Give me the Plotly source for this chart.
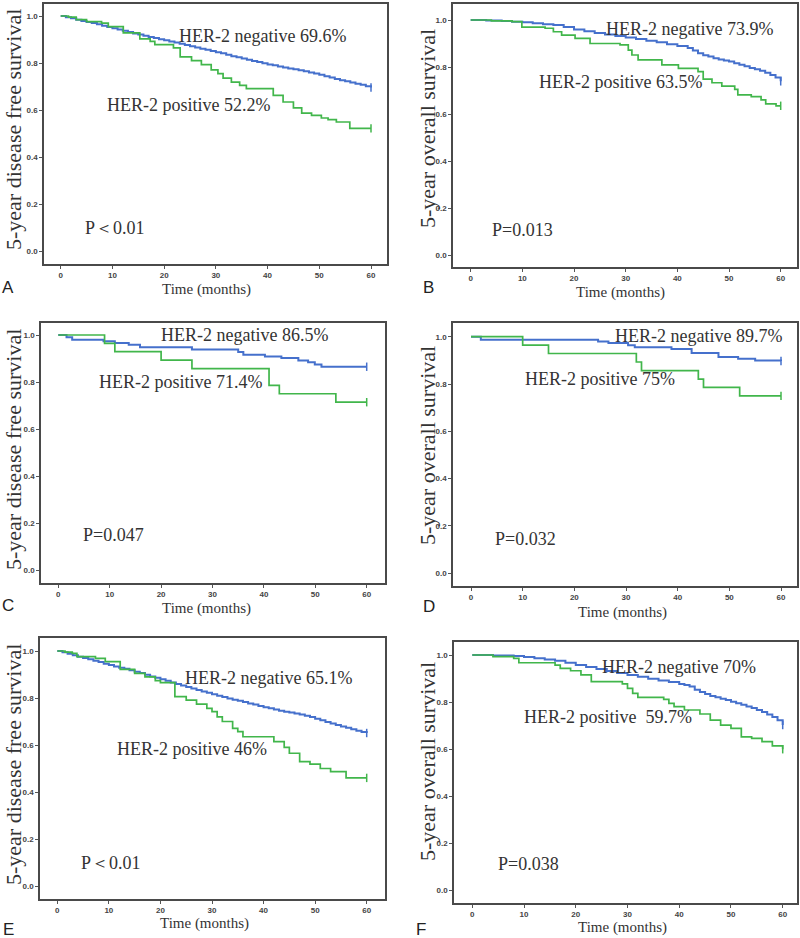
import plotly.graph_objects as go

# ---------------- data ----------------
a_neg_t = [0, 1, 2, 3, 4, 5, 6, 7, 8, 9, 10, 11, 12, 13, 14, 15, 16, 17, 18, 19, 20, 21, 22, 23, 24, 25, 26, 27, 28, 29, 30,
           31, 32, 33, 34, 35, 36, 37, 38, 39, 40, 41, 42, 43, 44, 45, 46, 47, 48, 49, 50, 51, 52, 53, 54, 55, 56, 57, 58, 59, 60]
a_neg_s = [1.0, 0.995, 0.99, 0.984, 0.979, 0.975, 0.97, 0.965, 0.958, 0.953, 0.948, 0.943, 0.937, 0.932, 0.926, 0.921, 0.916,
           0.911, 0.906, 0.901, 0.897, 0.892, 0.887, 0.882, 0.877, 0.871, 0.866, 0.861, 0.856, 0.851, 0.846, 0.841, 0.835, 0.829,
           0.824, 0.819, 0.814, 0.809, 0.804, 0.799, 0.794, 0.79, 0.785, 0.781, 0.777, 0.773, 0.769, 0.765, 0.76, 0.755, 0.75,
           0.744, 0.738, 0.732, 0.727, 0.722, 0.717, 0.712, 0.707, 0.701, 0.696]
a_pos_t = [0, 1.5, 3, 5, 7.9, 9.2, 12.1, 15.3, 17.3, 18.2, 21.8, 23.1, 25.3, 27.2, 29.1, 30.4, 31.4, 33, 34.6, 35.9, 41.1, 43,
           45, 46.6, 48.5, 50.4, 51.7, 53.3, 55.9, 60]
a_pos_s = [1.0, 0.995, 0.985, 0.976, 0.97, 0.955, 0.928, 0.903, 0.892, 0.878, 0.864, 0.826, 0.81, 0.793, 0.771, 0.755, 0.736,
           0.719, 0.705, 0.691, 0.662, 0.634, 0.609, 0.587, 0.577, 0.566, 0.559, 0.549, 0.522, 0.522]

b_neg_t = [0, 3, 6, 8, 10, 12, 14, 16, 18, 20, 22, 24, 26, 28, 30, 32, 34, 36, 38, 40, 42, 43, 44, 45, 46, 47, 48, 49, 50, 51,
           52, 53, 54, 55, 56, 57, 58, 59, 60]
b_neg_s = [1.0, 0.998, 0.996, 0.993, 0.99, 0.986, 0.982, 0.979, 0.97, 0.96, 0.952, 0.945, 0.938, 0.932, 0.926, 0.919, 0.912,
           0.905, 0.897, 0.889, 0.881, 0.87, 0.858, 0.85, 0.845, 0.837, 0.832, 0.828, 0.823, 0.816, 0.81, 0.803, 0.796, 0.79,
           0.784, 0.776, 0.766, 0.755, 0.739]
b_pos_t = [0, 4, 8, 9.9, 14.4, 16, 17.6, 20.2, 23.1, 28.9, 30.5, 31.2, 32.4, 37, 40.2, 44, 45, 46.7, 48.6, 51.1, 51.7, 54.3,
           56.2, 57.1, 59.1, 60]
b_pos_s = [1.0, 0.996, 0.993, 0.97, 0.965, 0.95, 0.936, 0.922, 0.9, 0.894, 0.872, 0.851, 0.83, 0.809, 0.794, 0.78, 0.748,
           0.733, 0.719, 0.705, 0.681, 0.674, 0.66, 0.643, 0.635, 0.635]

c_neg_t = [0, 1.6, 2.7, 8.8, 11, 13.7, 15.9, 26, 35, 36, 40.2, 43.4, 46.7, 48.6, 49.9, 51.2, 60]
c_neg_s = [1.0, 0.99, 0.98, 0.973, 0.966, 0.959, 0.948, 0.938, 0.928, 0.916, 0.909, 0.902, 0.892, 0.884, 0.874, 0.865, 0.865]
c_pos_t = [0, 9, 11, 20, 26, 41, 43, 54, 60]
c_pos_s = [1.0, 0.964, 0.929, 0.893, 0.857, 0.786, 0.75, 0.714, 0.714]

d_neg_t = [0, 1.9, 24.6, 26.6, 30.4, 31.7, 38.8, 42.7, 47.9, 51.7, 55, 60]
d_neg_s = [1.0, 0.987, 0.98, 0.973, 0.964, 0.955, 0.948, 0.931, 0.914, 0.907, 0.899, 0.897]
d_pos_t = [0, 10, 15, 32, 33, 44, 45, 52, 60]
d_pos_s = [1.0, 0.964, 0.929, 0.893, 0.857, 0.821, 0.786, 0.75, 0.75]

e_neg_t = [0, 1, 2, 3, 4, 5, 6, 7, 8, 9, 10, 11, 12, 13, 14, 15, 16, 17, 18, 19, 20, 21, 22, 23, 24, 25, 26, 27, 28, 29, 30,
           31, 32, 33, 34, 35, 36, 37, 38, 39, 40, 41, 42, 43, 44, 45, 46, 47, 48, 49, 50, 51, 52, 53, 54, 55, 56, 57, 58, 59, 60]
e_neg_s = [1.0, 0.995, 0.988, 0.982, 0.976, 0.97, 0.965, 0.959, 0.953, 0.946, 0.94, 0.934, 0.929, 0.924, 0.918, 0.912, 0.906,
           0.899, 0.892, 0.886, 0.88, 0.873, 0.866, 0.86, 0.853, 0.847, 0.84, 0.834, 0.828, 0.822, 0.816, 0.81, 0.804, 0.798,
           0.793, 0.788, 0.783, 0.777, 0.772, 0.766, 0.761, 0.756, 0.751, 0.746, 0.742, 0.738, 0.734, 0.73, 0.725, 0.719, 0.712,
           0.705, 0.698, 0.691, 0.685, 0.679, 0.673, 0.667, 0.661, 0.655, 0.651]
e_pos_t = [0, 1.5, 2.9, 3.8, 7.4, 9.3, 12.2, 15, 17, 19, 20, 22.8, 25, 27, 29, 30, 31, 32, 34, 35, 36, 42, 44, 45, 47, 49, 51,
           53, 56, 60]
e_pos_s = [1.0, 0.995, 0.99, 0.976, 0.969, 0.955, 0.922, 0.905, 0.89, 0.874, 0.865, 0.806, 0.791, 0.774, 0.756, 0.742, 0.72,
           0.7, 0.671, 0.657, 0.635, 0.614, 0.59, 0.565, 0.529, 0.519, 0.5, 0.487, 0.46, 0.46]

f_neg_t = [0, 4, 8, 10, 12, 14, 16, 18, 20, 22, 24, 26, 28, 30, 32, 34, 36, 38, 40, 41, 42, 43, 44, 45, 46, 47, 48, 49, 50, 51,
           52, 53, 54, 55, 56, 57, 58, 59, 60]
f_neg_s = [1.0, 0.998, 0.996, 0.991, 0.986, 0.981, 0.976, 0.967, 0.957, 0.949, 0.94, 0.932, 0.923, 0.915, 0.907, 0.899, 0.892,
           0.885, 0.877, 0.872, 0.866, 0.852, 0.843, 0.834, 0.826, 0.82, 0.814, 0.808, 0.801, 0.795, 0.788, 0.781, 0.774,
           0.766, 0.757, 0.747, 0.736, 0.722, 0.702]
f_pos_t = [0, 4, 8, 9, 16, 17, 19, 21, 23, 29, 30, 31, 32, 37, 38, 39, 41, 44, 46, 48, 50, 52, 54, 56, 58, 60]
f_pos_s = [1.0, 0.993, 0.986, 0.967, 0.957, 0.943, 0.933, 0.915, 0.887, 0.877, 0.858, 0.837, 0.82, 0.811, 0.794, 0.78, 0.766,
           0.749, 0.723, 0.702, 0.688, 0.652, 0.645, 0.631, 0.613, 0.599]

panel_letters = ["A", "B", "C", "D", "E", "F"]
y_titles = ["5-year disease free survival", "5-year overall survival"] * 3
neg_labels = ["HER-2 negative 69.6%", "HER-2 negative 73.9%", "HER-2 negative 86.5%",
              "HER-2 negative 89.7%", "HER-2 negative 65.1%", "HER-2 negative 70%"]
pos_labels = ["HER-2 positive 52.2%", "HER-2 positive 63.5%", "HER-2 positive 71.4%",
              "HER-2 positive 75%", "HER-2 positive 46%", "HER-2 positive\u00a0 59.7%"]
p_labels = ["P\uff1c0.01", "P=0.013", "P=0.047", "P=0.032", "P\uff1c0.01", "P=0.038"]
x_title = "Time (months)"
x_ticks = [0, 10, 20, 30, 40, 50, 60]
y_ticks = [0.0, 0.2, 0.4, 0.6, 0.8, 1.0]
y_ticktext = ["0.0", "0.2", "0.4", "0.6", "0.8", "1.0"]

series = [
    (a_neg_t, a_neg_s, a_pos_t, a_pos_s),
    (b_neg_t, b_neg_s, b_pos_t, b_pos_s),
    (c_neg_t, c_neg_s, c_pos_t, c_pos_s),
    (d_neg_t, d_neg_s, d_pos_t, d_pos_s),
    (e_neg_t, e_neg_s, e_pos_t, e_pos_s),
    (f_neg_t, f_neg_s, f_pos_t, f_pos_s),
]

# ---------------- layout geometry (pixels) ----------------
W, H = 800, 938
# frame (l, r, t, b) and data anchors (x at 0, x at 60, y at 1.0, y at 0.0)
geom = [
    dict(frame=(44, 387, 4, 264), anch=(60.7, 371, 16, 251)),
    dict(frame=(453, 797, 4, 267), anch=(470.7, 780.7, 20, 255)),
    dict(frame=(41, 385, 323, 583), anch=(58.3, 366.7, 335, 570)),
    dict(frame=(453, 797, 323, 586), anch=(471, 781, 336.7, 573.3)),
    dict(frame=(40, 385, 638, 899), anch=(57.3, 366.7, 651, 886)),
    dict(frame=(454, 797, 642, 903), anch=(472.3, 782.7, 655, 890)),
]
# text placements (pixels)
txt = [
    dict(neg=(177, 36), pos=(105, 105), p=(83, 228), ytl=(13, 130), xt=(207, 289), let=(8, 287)),
    dict(neg=(604, 29), pos=(537, 82), p=(490, 230), ytl=(427, 128), xt=(620, 292), let=(428, 287)),
    dict(neg=(159, 335), pos=(97, 382), p=(81, 535), ytl=(13, 450), xt=(207, 608), let=(8, 605)),
    dict(neg=(613, 336), pos=(523, 379), p=(493, 539), ytl=(427, 445), xt=(622, 612), let=(429, 606)),
    dict(neg=(183, 678), pos=(115, 749), p=(79, 863), ytl=(13, 765), xt=(205, 923), let=(8, 929)),
    dict(neg=(600, 667), pos=(522, 717), p=(496, 864), ytl=(427, 761), xt=(622, 927), let=(421, 929)),
]

BLUE = "#4570cc"
GREEN = "#41b64b"
TXT = "#333333"
SERIF = "Liberation Serif, Times New Roman, serif"

def px(x):
    return x / W

def py(y):
    return 1 - y / H

fig = go.Figure()
annotations = []

for i, (g, tx, (nt, ns, pt, ps)) in enumerate(zip(geom, txt, series)):
    n = i + 1
    xa = "x" if n == 1 else f"x{n}"
    ya = "y" if n == 1 else f"y{n}"
    l, r, t, b = g["frame"]
    x0, x60, y1, y0 = g["anch"]
    ppx = (x60 - x0) / 60.0
    ppy = (y0 - y1) / 1.0
    xr = [0 - (x0 - l) / ppx, 60 + (r - x60) / ppx]
    yr = [0 - (b - y0) / ppy, 1 + (y1 - t) / ppy]

    axis_common = dict(showgrid=False, zeroline=False, showline=True, mirror=True,
                       linecolor="#4a4a4a", linewidth=1.5, ticks="outside", ticklen=3,
                       tickwidth=1, tickcolor="#555555",
                       tickfont=dict(family="Liberation Sans, Arial", size=8, color="#444444", weight="bold"))
    fig.update_layout(**{
        ("xaxis" if n == 1 else f"xaxis{n}"): dict(domain=[px(l), px(r)], range=xr, anchor=ya,
                                                   tickvals=x_ticks, **axis_common),
        ("yaxis" if n == 1 else f"yaxis{n}"): dict(domain=[py(b), py(t)], range=yr, anchor=xa,
                                                   tickvals=y_ticks, ticktext=y_ticktext, **axis_common),
    })

    fig.add_trace(go.Scatter(x=nt, y=ns, mode="lines", line=dict(color=BLUE, width=2, shape="hv"),
                             xaxis=xa, yaxis=ya, showlegend=False, hoverinfo="skip"))
    fig.add_trace(go.Scatter(x=pt, y=ps, mode="lines", line=dict(color=GREEN, width=1.7, shape="hv"),
                             xaxis=xa, yaxis=ya, showlegend=False, hoverinfo="skip"))
    fig.add_trace(go.Scatter(x=[nt[-1], pt[-1]], y=[ns[-1], ps[-1]], mode="markers",
                             marker=dict(symbol="line-ns-open", size=6, color=[BLUE, GREEN],
                                         line=dict(width=1.5, color=[BLUE, GREEN])),
                             xaxis=xa, yaxis=ya, showlegend=False, hoverinfo="skip"))

    for key, text in (("neg", neg_labels[i]), ("pos", pos_labels[i]), ("p", p_labels[i])):
        x, y = tx[key]
        annotations.append(dict(x=px(x), y=py(y), xref="paper", yref="paper", text=text, showarrow=False,
                                xanchor="left", yanchor="middle",
                                font=dict(family=SERIF, size=18, color=TXT)))
    x, y = tx["ytl"]
    annotations.append(dict(x=px(x), y=py(y), xref="paper", yref="paper", text=y_titles[i], showarrow=False,
                            textangle=-90, xanchor="center", yanchor="middle",
                            font=dict(family=SERIF, size=22, color=TXT)))
    x, y = tx["xt"]
    annotations.append(dict(x=px(x), y=py(y), xref="paper", yref="paper", text=x_title, showarrow=False,
                            xanchor="center", yanchor="middle",
                            font=dict(family=SERIF, size=15, color=TXT)))
    x, y = tx["let"]
    annotations.append(dict(x=px(x), y=py(y), xref="paper", yref="paper", text=panel_letters[i], showarrow=False,
                            xanchor="center", yanchor="middle",
                            font=dict(family="Liberation Sans, Arial", size=17, color="#222222")))

fig.update_layout(width=W, height=H, margin=dict(l=0, r=0, t=0, b=0),
                  paper_bgcolor="white", plot_bgcolor="white", annotations=annotations)

fig.write_html("out.html", config={"displayModeBar": False},
               post_script="document.body.style.margin='0';document.body.style.padding='0';"
                           "document.body.style.overflow='hidden';")
